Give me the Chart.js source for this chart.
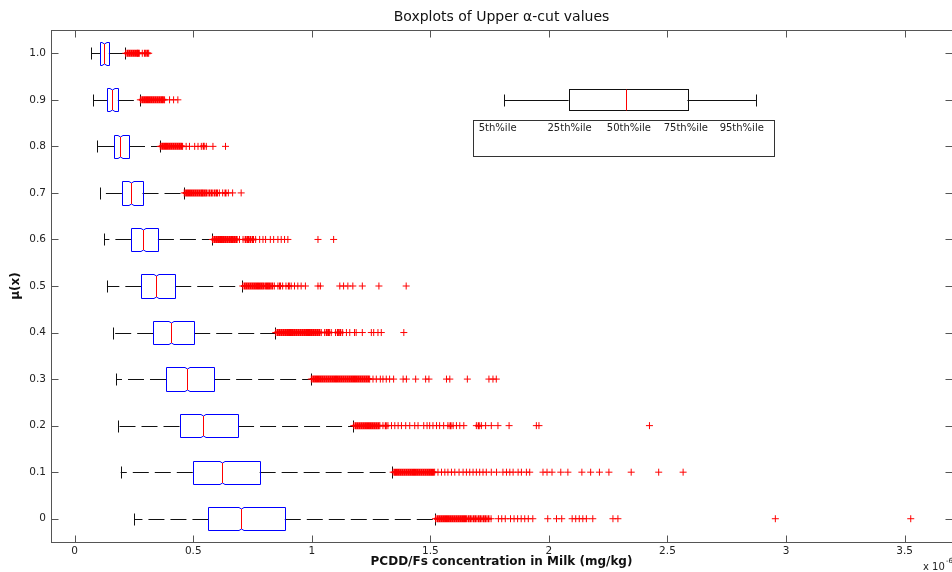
<!DOCTYPE html>
<html>
<head>
<meta charset="utf-8">
<title>Boxplots of Upper α-cut values</title>
<script src="https://cdn.jsdelivr.net/npm/chart.js@4.4.1/dist/chart.umd.min.js"></script>
<style>
  html, body { margin: 0; padding: 0; background: #fff; }
  #wrap { width: 952px; height: 572px; }
</style>
</head>
<body>
<div id="wrap"><canvas id="boxChart" width="952" height="572"></canvas></div>
<script>
// membership levels and five-number summaries (x in units of 1e-6 mg/kg)
var muLevels    = [0, 0.1, 0.2, 0.3, 0.4, 0.5, 0.6, 0.7, 0.8, 0.9, 1.0];
var whiskerLow  = [0.251, 0.194, 0.182, 0.175, 0.161, 0.136, 0.124, 0.108, 0.094, 0.079, 0.070];
var quart1      = [0.564, 0.498, 0.442, 0.385, 0.331, 0.281, 0.239, 0.199, 0.166, 0.136, 0.108];
var medians     = [0.703, 0.623, 0.542, 0.473, 0.406, 0.341, 0.286, 0.237, 0.192, 0.156, 0.123];
var quart3      = [0.886, 0.780, 0.689, 0.588, 0.504, 0.424, 0.351, 0.286, 0.229, 0.182, 0.144];
var whiskerHigh = [1.519, 1.340, 1.174, 0.995, 0.846, 0.706, 0.578, 0.459, 0.358, 0.274, 0.212];

// outliers per level
var outMu00 = [1.522, 1.530, 1.538, 1.546, 1.554, 1.562, 1.570, 1.578, 1.586, 1.594, 1.602, 1.610, 1.618,
  1.626, 1.634, 1.642, 1.650, 1.661, 1.670, 1.682, 1.691, 1.703, 1.712, 1.724, 1.733, 1.745, 1.756,
  1.787, 1.801, 1.816, 1.838, 1.853, 1.868, 1.883, 1.898, 1.913, 1.932, 1.995, 2.032, 2.054, 2.098,
  2.113, 2.128, 2.143, 2.158, 2.185, 2.270, 2.291, 2.955, 3.526];
var outMu01 = [1.343, 1.351, 1.359, 1.367, 1.375, 1.383, 1.391, 1.399, 1.407, 1.415, 1.423, 1.431, 1.439,
  1.447, 1.455, 1.463, 1.471, 1.479, 1.487, 1.495, 1.503, 1.511, 1.518, 1.532, 1.547, 1.561, 1.574,
  1.589, 1.603, 1.621, 1.638, 1.652, 1.666, 1.680, 1.694, 1.708, 1.722, 1.736, 1.757, 1.779, 1.806,
  1.821, 1.835, 1.849, 1.870, 1.884, 1.905, 1.919, 1.975, 1.992, 2.013, 2.050, 2.080, 2.139, 2.176,
  2.213, 2.253, 2.347, 2.463, 2.566];
var outMu02 = [1.177, 1.185, 1.193, 1.201, 1.209, 1.217, 1.225, 1.233, 1.241, 1.249, 1.257, 1.265, 1.273,
  1.281, 1.287, 1.300, 1.312, 1.321, 1.336, 1.350, 1.364, 1.378, 1.396, 1.413, 1.434, 1.448, 1.472,
  1.486, 1.497, 1.511, 1.526, 1.539, 1.556, 1.574, 1.585, 1.596, 1.610, 1.624, 1.641, 1.694, 1.704,
  1.715, 1.733, 1.757, 1.785, 1.832, 1.947, 1.958, 2.424];
var outMu03 = [0.998, 1.006, 1.014, 1.022, 1.030, 1.038, 1.046, 1.054, 1.062, 1.070, 1.078, 1.086, 1.094,
  1.102, 1.110, 1.118, 1.126, 1.134, 1.142, 1.150, 1.158, 1.166, 1.174, 1.182, 1.190, 1.198, 1.206,
  1.214, 1.222, 1.230, 1.238, 1.244, 1.258, 1.272, 1.289, 1.300, 1.314, 1.328, 1.345, 1.385, 1.399,
  1.438, 1.480, 1.494, 1.568, 1.582, 1.656, 1.747, 1.764, 1.778];
var outMu04 = [0.848, 0.856, 0.864, 0.872, 0.880, 0.888, 0.896, 0.904, 0.912, 0.920, 0.928, 0.936, 0.944,
  0.952, 0.960, 0.968, 0.976, 0.984, 0.992, 1.000, 1.008, 1.016, 1.024, 1.032, 1.040, 1.054, 1.063,
  1.072, 1.082, 1.100, 1.110, 1.120, 1.130, 1.146, 1.160, 1.180, 1.187, 1.213, 1.251, 1.261, 1.279,
  1.293, 1.388];
var outMu05 = [0.709, 0.717, 0.725, 0.733, 0.741, 0.749, 0.757, 0.765, 0.773, 0.781, 0.789, 0.797, 0.807,
  0.815, 0.823, 0.833, 0.842, 0.857, 0.866, 0.877, 0.891, 0.903, 0.913, 0.927, 0.941, 0.955, 0.973,
  1.026, 1.036, 1.118, 1.134, 1.152, 1.173, 1.213, 1.283, 1.398];
var outMu06 = [0.581, 0.589, 0.597, 0.605, 0.613, 0.621, 0.629, 0.637, 0.645, 0.653, 0.660, 0.667, 0.675,
  0.683, 0.695, 0.710, 0.721, 0.731, 0.741, 0.752, 0.763, 0.780, 0.794, 0.805, 0.825, 0.839, 0.857,
  0.871, 0.885, 0.899, 1.026, 1.092];
var outMu07 = [0.462, 0.470, 0.478, 0.486, 0.494, 0.502, 0.510, 0.518, 0.526, 0.534, 0.540, 0.548, 0.556,
  0.568, 0.578, 0.590, 0.600, 0.610, 0.624, 0.636, 0.648, 0.666, 0.702];
var outMu08 = [0.361, 0.369, 0.377, 0.385, 0.393, 0.401, 0.409, 0.417, 0.425, 0.433, 0.441, 0.449, 0.455,
  0.470, 0.484, 0.506, 0.520, 0.534, 0.544, 0.555, 0.583, 0.636];
var outMu09 = [0.277, 0.285, 0.293, 0.301, 0.309, 0.317, 0.325, 0.333, 0.341, 0.349, 0.357, 0.365, 0.372,
  0.379, 0.400, 0.417, 0.435];
var outMu10 = [0.215, 0.223, 0.231, 0.239, 0.247, 0.255, 0.263, 0.268, 0.272, 0.285, 0.296, 0.306, 0.312];

// axis ticks
var xTickValues = [0, 0.5, 1, 1.5, 2, 2.5, 3, 3.5];
var xTickLabels = ['0', '0.5', '1', '1.5', '2', '2.5', '3', '3.5'];
var yTickValues = [0, 0.1, 0.2, 0.3, 0.4, 0.5, 0.6, 0.7, 0.8, 0.9, 1.0];
var yTickLabels = ['0', '0.1', '0.2', '0.3', '0.4', '0.5', '0.6', '0.7', '0.8', '0.9', '1.0'];

// key box in the corner (percentiles drawn as a sample box)
var keyStats  = [1.811, 2.083, 2.323, 2.584, 2.873];
var keyMu     = 0.9;
var keyLabels = ['5th%ile', '25th%ile', '50th%ile', '75th%ile', '95th%ile'];
var keyLabelX = [1.704, 1.994, 2.244, 2.484, 2.720];

var FONT = '"DejaVu Sans", Verdana, sans-serif';
var BOX_HALF = 0.025;   // half box height, in mu units
var CAP = 6;            // whisker cap half length, px
var TICK = 7;           // inward tick length, px

var outlierRows = [outMu00, outMu01, outMu02, outMu03, outMu04, outMu05, outMu06, outMu07, outMu08, outMu09, outMu10];
var outlierPoints = [];
var outlierWidths = [];
for (var r = 0; r < outlierRows.length; r++) {
    var row = outlierRows[r];
    for (var k = 0; k < row.length; k++) {
        outlierPoints.push({ x: row[k], y: muLevels[r] });
        // crosses packed tightly on both sides merge into a solid run
        var packed = k > 0 && k < row.length - 1 &&
            row[k] - row[k - 1] < 0.0125 && row[k + 1] - row[k] < 0.0125;
        outlierWidths.push(packed ? 2 : 1);
    }
}

function snap(v) { return Math.round(v) + 0.5; }

function notchedBox(ctx, xs, ys, mu, lo, med, hi, half, color) {
    var top = snap(ys.getPixelForValue(mu + half));
    var bot = snap(ys.getPixelForValue(mu - half));
    var a = snap(xs.getPixelForValue(lo));
    var b = snap(xs.getPixelForValue(hi));
    var m = snap(xs.getPixelForValue(med));
    var nw = 2.5, nd = 1.5;
    ctx.strokeStyle = color;
    ctx.beginPath();
    ctx.moveTo(a, top);
    ctx.lineTo(m - nw, top);
    ctx.lineTo(m, top + nd);
    ctx.lineTo(m + nw, top);
    ctx.lineTo(b, top);
    ctx.lineTo(b, bot);
    ctx.lineTo(m + nw, bot);
    ctx.lineTo(m, bot - nd);
    ctx.lineTo(m - nw, bot);
    ctx.lineTo(a, bot);
    ctx.closePath();
    ctx.stroke();
    ctx.strokeStyle = '#ff0000';
    ctx.beginPath();
    ctx.moveTo(m, top + nd);
    ctx.lineTo(m, bot - nd);
    ctx.stroke();
}

var boxplotPlugin = {
    id: 'boxplots',
    beforeDatasetsDraw: function(chart) {
        var ctx = chart.ctx, xs = chart.scales.x, ys = chart.scales.y;
        ctx.save();
        ctx.lineWidth = 1;
        for (var i = 0; i < muLevels.length; i++) {
            var yc = snap(ys.getPixelForValue(muLevels[i]));
            var pLow = xs.getPixelForValue(whiskerLow[i]);
            var pQ1 = xs.getPixelForValue(quart1[i]);
            var pQ3 = xs.getPixelForValue(quart3[i]);
            var pHigh = xs.getPixelForValue(whiskerHigh[i]);

            // dashed whiskers, drawn outward from the box
            ctx.strokeStyle = '#111';
            ctx.setLineDash([16, 6]);
            ctx.beginPath();
            ctx.moveTo(pQ1, yc); ctx.lineTo(pLow, yc);
            ctx.stroke();
            ctx.beginPath();
            ctx.moveTo(pQ3, yc); ctx.lineTo(pHigh, yc);
            ctx.stroke();
            ctx.setLineDash([]);

            // caps
            ctx.beginPath();
            ctx.moveTo(snap(pLow), yc - CAP); ctx.lineTo(snap(pLow), yc + CAP);
            ctx.moveTo(snap(pHigh), yc - CAP); ctx.lineTo(snap(pHigh), yc + CAP);
            ctx.stroke();

            notchedBox(ctx, xs, ys, muLevels[i], quart1[i], medians[i], quart3[i], BOX_HALF, '#0000ff');
        }
        ctx.restore();
    },
    afterDatasetsDraw: function(chart) {
        // sample box explaining the percentiles
        var ctx = chart.ctx, xs = chart.scales.x, ys = chart.scales.y;
        ctx.save();
        ctx.lineWidth = 1;
        var yc = snap(ys.getPixelForValue(keyMu));
        var p = keyStats.map(function(v) { return xs.getPixelForValue(v); });
        ctx.strokeStyle = '#111';
        ctx.beginPath();
        ctx.moveTo(p[0], yc); ctx.lineTo(p[1], yc);
        ctx.moveTo(p[3], yc); ctx.lineTo(p[4], yc);
        ctx.moveTo(snap(p[0]), yc - CAP); ctx.lineTo(snap(p[0]), yc + CAP);
        ctx.moveTo(snap(p[4]), yc - CAP); ctx.lineTo(snap(p[4]), yc + CAP);
        ctx.stroke();
        var top = snap(ys.getPixelForValue(keyMu + 0.0225));
        var bot = snap(ys.getPixelForValue(keyMu - 0.0225));
        ctx.strokeRect(snap(p[1]), top, Math.round(p[3] - p[1]), bot - top);
        ctx.strokeStyle = '#ff0000';
        ctx.beginPath();
        ctx.moveTo(snap(p[2]), top); ctx.lineTo(snap(p[2]), bot);
        ctx.stroke();

        // frame around the labels
        var fx0 = snap(xs.getPixelForValue(1.679)), fx1 = snap(xs.getPixelForValue(2.949));
        var fy0 = snap(ys.getPixelForValue(0.857)), fy1 = snap(ys.getPixelForValue(0.780));
        ctx.strokeStyle = '#333';
        ctx.strokeRect(fx0, fy0, fx1 - fx0, fy1 - fy0);
        ctx.fillStyle = '#222';
        ctx.font = '10px ' + FONT;
        ctx.textBaseline = 'middle';
        ctx.textAlign = 'left';
        var ty = ys.getPixelForValue(0.838);
        for (var i = 0; i < keyLabels.length; i++) {
            ctx.fillText(keyLabels[i], xs.getPixelForValue(keyLabelX[i]), ty);
        }
        ctx.restore();
    }
};

var framePlugin = {
    id: 'matlabFrame',
    afterDraw: function(chart) {
        var ctx = chart.ctx, a = chart.chartArea, xs = chart.scales.x, ys = chart.scales.y;
        // the right edge of the axes falls just outside the picture
        var l = snap(a.left), r = snap(a.right), t = snap(a.top), b = snap(a.bottom);
        ctx.save();
        ctx.strokeStyle = '#555';
        ctx.lineWidth = 1;
        ctx.strokeRect(l, t, r - l, b - t);
        ctx.beginPath();
        xTickValues.forEach(function(v) {
            var px = snap(xs.getPixelForValue(v));
            ctx.moveTo(px, b); ctx.lineTo(px, b - TICK);
            ctx.moveTo(px, t); ctx.lineTo(px, t + TICK);
        });
        yTickValues.forEach(function(v) {
            var py = snap(ys.getPixelForValue(v));
            ctx.moveTo(l, py); ctx.lineTo(l + TICK, py);
            ctx.moveTo(r, py); ctx.lineTo(r - TICK, py);
        });
        ctx.stroke();
        // exponent note under the x axis
        ctx.fillStyle = '#222';
        ctx.font = '10px ' + FONT;
        ctx.textBaseline = 'alphabetic';
        ctx.textAlign = 'left';
        ctx.fillText('x 10', 923, 570);
        ctx.font = '7px ' + FONT;
        ctx.fillText('-6', 946, 563);
        ctx.restore();
    }
};

new Chart(document.getElementById('boxChart'), {
    type: 'scatter',
    data: {
        datasets: [{
            label: 'Outliers',
            data: outlierPoints,
            pointStyle: 'cross',
            pointRadius: 3.5,
            pointHoverRadius: 3.5,
            borderColor: '#ff0000',
            backgroundColor: '#ff0000',
            pointBorderWidth: outlierWidths
        }]
    },
    options: {
        responsive: false,
        animation: false,
        events: [],
        layout: { padding: 0, autoPadding: false },
        plugins: {
            legend: { display: false },
            tooltip: { enabled: false },
            title: {
                display: true,
                fullSize: false,
                text: 'Boxplots of Upper α-cut values',
                color: '#111',
                font: { family: FONT, size: 14, weight: 'normal' },
                padding: { top: 8.5, bottom: 4.7 }
            }
        },
        scales: {
            x: {
                type: 'linear',
                min: -0.1,
                max: 3.7,
                grid: { display: false },
                border: { display: false },
                afterBuildTicks: function(scale) {
                    scale.ticks = xTickValues.map(function(v) { return { value: v }; });
                },
                afterFit: function(scale) { scale.height = 30; },
                ticks: {
                    padding: -5,
                    color: '#222',
                    font: { family: FONT, size: 10.5 },
                    maxRotation: 0,
                    autoSkip: false,
                    callback: function(value, index) { return xTickLabels[index]; }
                },
                title: {
                    display: true,
                    text: 'PCDD/Fs concentration in Milk (mg/kg)',
                    color: '#111',
                    font: { family: FONT, size: 12, weight: 'bold' },
                    padding: { top: 0, bottom: 2.5 }
                }
            },
            y: {
                type: 'linear',
                min: -0.05,
                max: 1.05,
                grid: { display: false },
                border: { display: false },
                afterBuildTicks: function(scale) {
                    scale.ticks = yTickValues.map(function(v) { return { value: v }; });
                },
                afterFit: function(scale) { scale.width = 51; },
                ticks: {
                    padding: -3,
                    color: '#222',
                    font: { family: FONT, size: 10.5 },
                    autoSkip: false,
                    callback: function(value, index) { return yTickLabels[index]; }
                },
                title: {
                    display: true,
                    text: 'μ(x)',
                    color: '#111',
                    font: { family: FONT, size: 12, weight: 'bold' },
                    padding: { top: 9, bottom: 0 }
                }
            }
        }
    },
    plugins: [boxplotPlugin, framePlugin]
});
</script>
</body>
</html>
